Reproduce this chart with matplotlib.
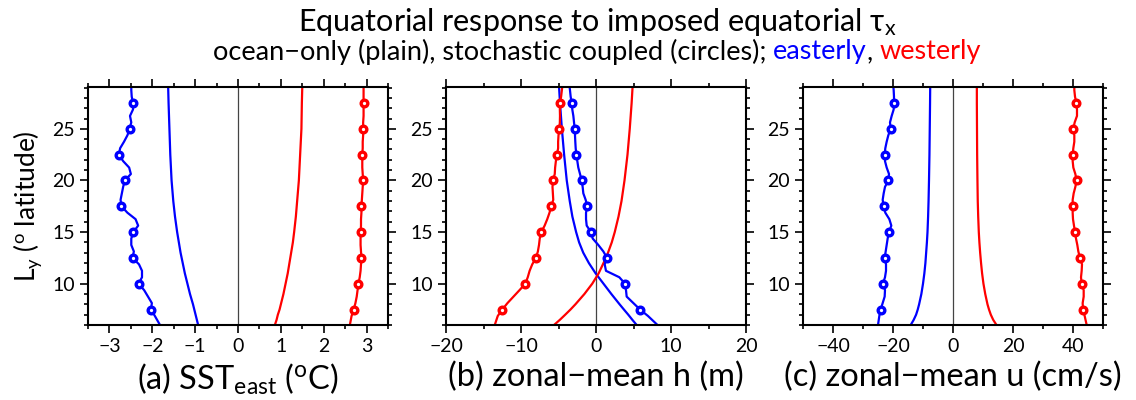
import matplotlib
matplotlib.use("Agg")
import matplotlib.pyplot as plt
from matplotlib.ticker import MultipleLocator

plt.rcParams['font.family'] = ['Lato', 'DejaVu Sans']
plt.rcParams['mathtext.fontset'] = 'custom'
plt.rcParams['mathtext.rm'] = 'Lato'
plt.rcParams['mathtext.it'] = 'Lato:italic'
plt.rcParams['mathtext.default'] = 'regular'

# latitudes (deg) for the coupled (wiggly) runs; circles every 2.5 deg
lat_coup = [6.0, 6.875, 7.5, 8.125, 8.75, 9.375, 10, 10.625, 11.25, 11.875,
            12.5, 13.125, 13.75, 14.375, 15, 15.625, 16.25, 16.875, 17.5, 18.125,
            18.75, 19.375, 20, 20.625, 21.25, 21.875, 22.5, 23.125, 23.75, 24.375,
            25, 25.625, 26.25, 26.875, 27.5, 28.125, 28.75, 29.1]
circle_idx = [2, 6, 10, 14, 18, 22, 26, 30, 34]
# latitudes for ocean-only (plain) runs
lat_plain = [6.0, 6.5, 7, 7.5, 8, 9, 10, 11, 12, 13, 14, 15, 16.5, 18, 20,
             22.5, 25, 27.5, 29.1]

# (a) SST east (C)
sst_east_coup = [-1.82, -1.94, -2.03, -2.01, -2.10, -2.19, -2.32, -2.24, -2.24, -2.31,
                 -2.46, -2.43, -2.49, -2.49, -2.44, -2.33, -2.39, -2.58, -2.72, -2.74,
                 -2.71, -2.68, -2.64, -2.50, -2.54, -2.68, -2.78, -2.75, -2.66, -2.58,
                 -2.53, -2.49, -2.52, -2.45, -2.45, -2.48, -2.49, -2.49]
sst_west_coup = [2.61, 2.65, 2.70, 2.74, 2.77, 2.79, 2.81, 2.84, 2.86, 2.87,
                 2.88, 2.87, 2.86, 2.86, 2.86, 2.87, 2.87, 2.88, 2.88, 2.89,
                 2.90, 2.91, 2.92, 2.91, 2.90, 2.90, 2.90, 2.91, 2.91, 2.92,
                 2.92, 2.92, 2.93, 2.93, 2.93, 2.93, 2.93, 2.93]
sst_east_plain = [-0.93, -0.96, -0.99, -1.02, -1.05, -1.12, -1.18, -1.24, -1.29, -1.34,
                  -1.38, -1.42, -1.47, -1.51, -1.55, -1.58, -1.60, -1.62, -1.63]
sst_west_plain = [0.86, 0.90, 0.93, 0.97, 1.00, 1.06, 1.11, 1.16, 1.20, 1.24,
                  1.28, 1.31, 1.35, 1.38, 1.42, 1.45, 1.48, 1.49, 1.50]

# (b) zonal-mean h (m)
h_east_coup = [8.20, 6.93, 5.87, 4.98, 4.09, 4.00, 3.87, 3.11, 1.33, 1.16,
               1.47, 0.98, 0.31, -0.44, -0.67, -1.24, -1.33, -1.33, -1.16, -1.38,
               -1.69, -1.78, -1.91, -2.13, -2.36, -2.49, -2.62, -2.71, -2.76, -2.80,
               -2.84, -2.93, -3.02, -3.16, -3.24, -3.38, -3.47, -3.53]
h_west_coup = [-13.5, -13.1, -12.49, -11.8, -11.0, -10.2, -9.42, -9.10, -8.85, -8.50,
               -8.00, -7.75, -7.60, -7.50, -7.29, -6.85, -6.50, -6.20, -5.96, -5.70,
               -5.75, -5.80, -5.73, -5.50, -5.45, -5.35, -5.20, -5.05, -5.05, -5.00,
               -4.89, -4.82, -4.80, -4.82, -4.80, -4.65, -4.55, -4.49]
h_east_plain = [5.42, 4.85, 4.30, 3.72, 3.15, 2.05, 1.00, -0.05, -0.95, -1.70,
                -2.25, -2.65, -3.15, -3.50, -3.90, -4.25, -4.55, -4.80, -4.93]
h_west_plain = [-5.60, -4.82, -4.10, -3.40, -2.75, -1.55, -0.50, 0.35, 1.00, 1.60,
                2.10, 2.50, 3.00, 3.40, 3.80, 4.20, 4.50, 4.75, 4.88]

# (c) zonal-mean u (cm/s)
u_east_coup = [-25.0, -24.56, -24.11, -23.44, -22.78, -22.67, -23.33, -22.67, -22.33, -22.33,
               -22.78, -22.44, -22.11, -21.78, -21.33, -20.56, -21.22, -22.56, -23.11, -23.44,
               -23.11, -22.67, -21.56, -21.33, -22.11, -22.67, -22.78, -22.56, -22.11, -21.56,
               -20.78, -21.0, -20.44, -19.78, -19.67, -19.67, -19.78, -19.89]
u_west_coup = [44.56, 43.89, 43.33, 43.22, 43.56, 43.56, 42.89, 42.67, 42.89, 43.0,
               42.33, 41.78, 41.44, 41.0, 40.67, 40.33, 40.0, 39.89, 39.89, 39.89,
               40.22, 40.78, 41.22, 40.78, 40.11, 39.89, 39.89, 40.11, 40.44, 40.44,
               40.11, 40.56, 41.33, 41.33, 41.11, 40.67, 40.44, 40.44]
u_east_plain = [-14.1, -13.1, -12.3, -11.75, -11.3, -10.55, -10.0, -9.55, -9.2, -8.95,
                -8.7, -8.5, -8.3, -8.15, -8.0, -7.85, -7.75, -7.65, -7.6]
u_west_plain = [14.5, 13.4, 12.6, 12.0, 11.5, 10.75, 10.15, 9.7, 9.35, 9.05,
                8.8, 8.6, 8.4, 8.25, 8.15, 8.05, 8.0, 7.95, 7.95]

panels = [
    ("(a) SST$_{east}$ ($^{o}$C)", (-3.5, 3.5), 1, 0.5,
     sst_east_coup, sst_west_coup, sst_east_plain, sst_west_plain),
    ("(b) zonal\u2212mean h (m)", (-20, 20), 10, 5,
     h_east_coup, h_west_coup, h_east_plain, h_west_plain),
    ("(c) zonal\u2212mean u (cm/s)", (-50, 50), 20, 10,
     u_east_coup, u_west_coup, u_east_plain, u_west_plain),
]

W, H = 1136, 400
fig = plt.figure(figsize=(W / 100, H / 100), dpi=100)
lefts = [88, 446, 803]
for i, (lab, xlim, maj, mnr, ec, wc, ep, wp) in enumerate(panels):
    ax = fig.add_axes([lefts[i] / W, 1 - 325 / H, 300 / W, 238.5 / H])
    ax.axvline(0, color='#444444', lw=0.9, zorder=1)
    ax.plot(ep, lat_plain, color='blue', lw=1.6)
    ax.plot(wp, lat_plain, color='red', lw=1.6)
    for vals, c in [(ec, 'blue'), (wc, 'red')]:
        ax.plot(vals, lat_coup, color=c, lw=1.6, marker='o', markevery=circle_idx,
                ms=4.8, mew=2.4, mfc='white', mec=c)
    ax.set_xlim(*xlim)
    ax.set_ylim(6, 29.1)
    ax.xaxis.set_major_locator(MultipleLocator(maj))
    ax.xaxis.set_minor_locator(MultipleLocator(mnr))
    ax.yaxis.set_minor_locator(MultipleLocator(1))
    ax.set_yticks([10, 15, 20, 25])
    ax.tick_params(which='both', direction='out', top=True, right=True,
                   labelsize=14, width=1.2)
    ax.tick_params(which='major', length=6)
    ax.tick_params(which='minor', length=3)
    for s in ax.spines.values():
        s.set_linewidth(1.5)
    ax.set_xlabel(lab, fontsize=23.5, labelpad=5)
    if i == 0:
        ax.set_ylabel("L$_{y}$ ($^{o}$ latitude)", fontsize=19, labelpad=6)

fig.text(597 / W, 1 - 22 / H, "Equatorial response to imposed equatorial $\\tau_{x}$",
         fontsize=22, ha='center', va='center')

# second title line with coloured words
pieces = [("ocean\u2212only (plain), stochastic coupled (circles);", 'black'),
          ("easterly", 'blue'), (",", 'black'), ("westerly", 'red')]
gaps = [True, False, True, False]
fs2 = 19.5
ytxt = 1 - 52 / H
texts = [fig.text(0, ytxt, s, color=c, fontsize=fs2, ha='left', va='center')
         for s, c in pieces]
fig.canvas.draw()
r = fig.canvas.get_renderer()
t1 = fig.text(0, 0, "a a", fontsize=fs2)
t2 = fig.text(0, 0, "aa", fontsize=fs2)
space = t1.get_window_extent(r).width - t2.get_window_extent(r).width
t1.remove()
t2.remove()
widths = [t.get_window_extent(r).width for t in texts]
total = sum(widths) + space * sum(gaps[:-1])
x = 597 - total / 2
for t, w, g in zip(texts, widths, gaps):
    t.set_x(x / W)
    x += w + (space if g else 0)

fig.savefig("out.png", dpi=100)
